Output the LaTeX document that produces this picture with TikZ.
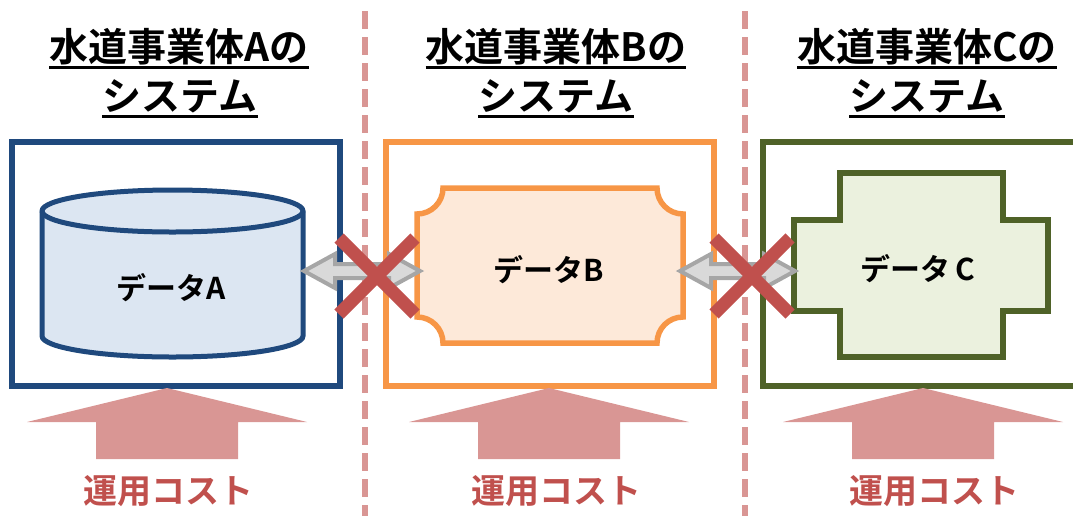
\documentclass[tikz,border=0pt]{standalone}
\usepackage{fontspec}
\setmainfont{Noto Sans CJK JP}[BoldFont={Noto Sans CJK JP Bold}]
\definecolor{cblue}{HTML}{1F497D}
\definecolor{cbluef}{HTML}{DCE6F2}
\definecolor{corange}{HTML}{F79646}
\definecolor{corangef}{HTML}{FDE9D9}
\definecolor{cgreen}{HTML}{4F6228}
\definecolor{cgreenf}{HTML}{EBF1DE}
\definecolor{cpink}{HTML}{D99694}
\definecolor{cred}{HTML}{C0504D}
\definecolor{cgray}{HTML}{A6A6A6}
\definecolor{cgrayf}{HTML}{D9D9D9}
\begin{document}
\begin{tikzpicture}[x=1pt,y=-1pt,
  title/.style={inner sep=0pt,anchor=base,font=\fontsize{39}{39}\selectfont\bfseries},
  uline/.style={line width=3.5pt},
  sysbox/.style={line width=5.5pt},
  datatext/.style={inner sep=0pt,anchor=base,font=\fontsize{30}{30}\selectfont\bfseries},
  costtext/.style={inner sep=0pt,anchor=base,text=cred,font=\fontsize{34}{34}\selectfont\bfseries},
  divider/.style={cpink,line width=6pt,dash pattern=on 18pt off 8pt},
  dblarrow/.style={draw=cgray,fill=cgrayf,line width=4pt,line join=miter},
  xmark/.style={cred,line width=13pt},
  costarrow/.style={fill=cpink}]
\useasboundingbox (0,0) rectangle (1073,515);
% dividers
\coordinate (d1t) at (365,11); \coordinate (d1b) at (365,520);
\coordinate (d2t) at (745,11); \coordinate (d2b) at (745,520);
\draw[divider] (d1t) -- (d1b);
\draw[divider] (d2t) -- (d2b);
% titles
\node[title] (ta1) at (179,61) {水道事業体Aの};
\node[title] (ta2) at (180,110) {システム};
\node[title] (tb1) at (556,61) {水道事業体Bの};
\node[title] (tb2) at (556,110) {システム};
\node[title] (tc1) at (927,61) {水道事業体Cの};
\node[title] (tc2) at (927,110) {システム};
\foreach \t in {ta1,ta2,tb1,tb2,tc1,tc2}{
  \draw[uline] ([yshift=-6.5pt]\t.base west) -- ([yshift=-6.5pt]\t.base east);
}
% system boxes
\draw[sysbox,cblue] (12,142) rectangle (340,386);
\draw[sysbox,corange] (386,142) rectangle (714,386);
\draw[sysbox,cgreen] (763,142) rectangle (1090,386);
% cylinder A
\draw[line width=5pt,draw=cblue,fill=cbluef] (42,211) -- (42,336)
  arc[start angle=180,end angle=360,x radius=130.5pt,y radius=21pt] -- (303,211)
  arc[start angle=0,end angle=180,x radius=130.5pt,y radius=21pt] -- cycle;
\draw[line width=5pt,draw=cblue] (42,211)
  arc[start angle=180,end angle=360,x radius=130.5pt,y radius=21pt];
\node[datatext] (da) at (171,299) {データA};
% plaque B
\draw[line width=5.5pt,draw=corange,fill=corangef]
  (443,188) -- (657,188) arc[start angle=180,end angle=270,radius=26pt]
  -- (683,317) arc[start angle=90,end angle=180,radius=26pt]
  -- (443,343) arc[start angle=0,end angle=90,radius=26pt]
  -- (417,214) arc[start angle=270,end angle=360,radius=26pt] -- cycle;
\node[datatext] (db) at (549,281) {データB};
% cross C
\draw[line width=5.5pt,draw=cgreen,fill=cgreenf,line join=miter]
  (840,173) -- (1003,173) -- (1003,220) -- (1048,220) -- (1048,311) -- (1003,311)
  -- (1003,357) -- (840,357) -- (840,311) -- (794,311) -- (794,220) -- (840,220) -- cycle;
\node[datatext] (dc) at (918,280) {データ\hspace{5pt}C};
% double arrows
\draw[dblarrow] (304,271) -- (335,254) -- (335,264) -- (389,264) -- (389,254) -- (420,271)
  -- (389,288) -- (389,278) -- (335,278) -- (335,288) -- cycle;
\draw[dblarrow] (680,271) -- (711,254) -- (711,264) -- (764,264) -- (764,254) -- (795,271)
  -- (764,288) -- (764,278) -- (711,278) -- (711,288) -- cycle;
% X marks
\coordinate (x1a) at (339,238); \coordinate (x1b) at (415,314);
\coordinate (x1c) at (415,238); \coordinate (x1d) at (339,314);
\draw[xmark] (x1a) -- (x1b); \draw[xmark] (x1c) -- (x1d);
\coordinate (x2a) at (714,238); \coordinate (x2b) at (790,314);
\coordinate (x2c) at (790,238); \coordinate (x2d) at (714,314);
\draw[xmark] (x2a) -- (x2b); \draw[xmark] (x2c) -- (x2d);
% cost arrows
\foreach \cx in {167,549,923}{
  \fill[costarrow] (\cx,388) -- (\cx+140,422) -- (\cx+71,422) -- (\cx+71,459)
    -- (\cx-71,459) -- (\cx-71,422) -- (\cx-140,422) -- cycle;
}
\node[costtext] (ca) at (168,503) {運用コスト};
\node[costtext] (cb) at (556,503) {運用コスト};
\node[costtext] (cc) at (934,503) {運用コスト};
\end{tikzpicture}
\end{document}
